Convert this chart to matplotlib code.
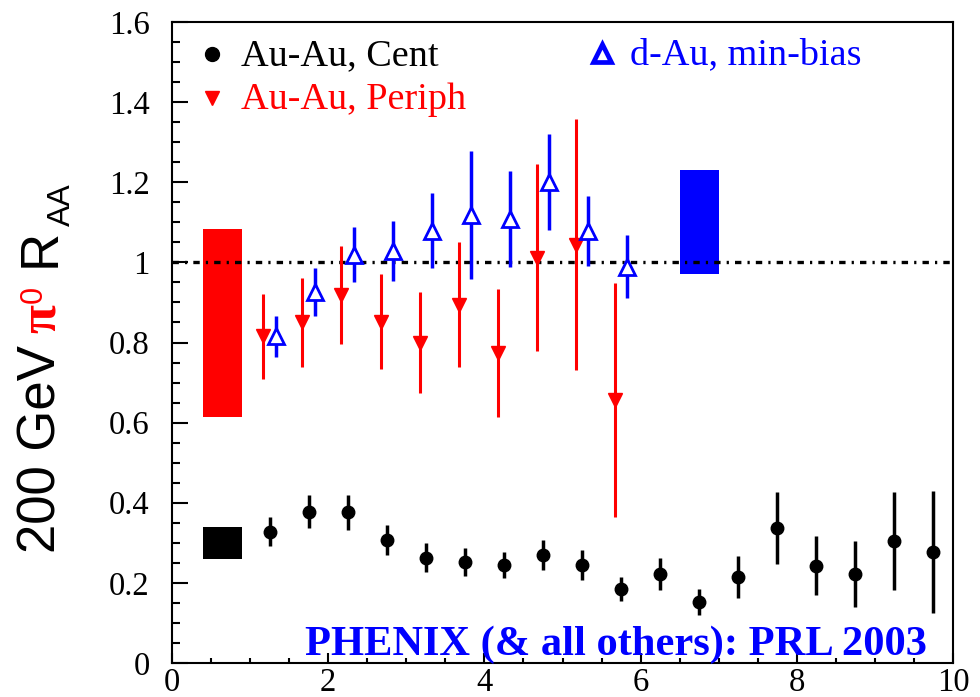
import matplotlib
matplotlib.use("Agg")
import matplotlib.pyplot as plt
from matplotlib.ticker import MultipleLocator, FixedLocator, FixedFormatter

plt.rcParams["font.family"] = ["Liberation Serif", "DejaVu Serif"]
plt.rcParams["lines.scale_dashes"] = False

# ---- data -------------------------------------------------------------
# Au-Au central collisions
pt_cent = [1.25, 1.75, 2.25, 2.75, 3.25, 3.75, 4.25, 4.75, 5.25,
           5.75, 6.25, 6.75, 7.25, 7.75, 8.25, 8.75, 9.25, 9.75]
raa_cent = [0.328, 0.378, 0.376, 0.307, 0.263, 0.252, 0.245, 0.270, 0.245,
            0.185, 0.222, 0.152, 0.214, 0.336, 0.243, 0.222, 0.304, 0.278]
err_cent = [0.037, 0.042, 0.043, 0.037, 0.036, 0.036, 0.032, 0.037, 0.037,
            0.030, 0.040, 0.033, 0.053, 0.090, 0.073, 0.082, 0.122, 0.152]

# Au-Au peripheral collisions
pt_periph = [1.17, 1.67, 2.17, 2.67, 3.17, 3.67, 4.17, 4.67, 5.17, 5.67]
raa_periph = [0.815, 0.850, 0.918, 0.852, 0.800, 0.894, 0.774, 1.012, 1.044, 0.656]
err_periph = [0.105, 0.110, 0.122, 0.119, 0.125, 0.156, 0.159, 0.233, 0.313, 0.292]

# d-Au minimum bias
pt_dau = [1.33, 1.83, 2.33, 2.83, 3.33, 3.83, 4.33, 4.83, 5.33, 5.83]
raa_dau = [0.815, 0.926, 1.019, 1.029, 1.079, 1.119, 1.109, 1.200, 1.079, 0.989]
err_dau = [0.052, 0.060, 0.069, 0.075, 0.094, 0.160, 0.120, 0.120, 0.087, 0.079]

# normalisation uncertainty boxes (cent, periph, d-Au)
box_x = [0.65, 0.65, 6.75]
box_lo = [0.26, 0.615, 0.97]
box_hi = [0.34, 1.083, 1.23]

legend_labels = ["Au-Au, Cent", "Au-Au, Periph", "d-Au, min-bias"]
xtick_vals = [0, 2, 4, 6, 8, 10]
ytick_vals = [0, 0.2, 0.4, 0.6, 0.8, 1.0, 1.2, 1.4, 1.6]
ytick_labels = ["0", "0.2", "0.4", "0.6", "0.8", "1", "1.2", "1.4", "1.6"]

# ---- figure -----------------------------------------------------------
W, H = 980, 697
fig = plt.figure(figsize=(W / 100, H / 100), dpi=100)
ax = fig.add_axes([172 / W, 34 / H, 781 / W, 641 / H])
ax.set_xlim(0, 10)
ax.set_ylim(0, 1.6)

RED = "#ff0000"
BLUE = "#0000ff"

# normalisation boxes
box_colors = ["black", RED, BLUE]
for xc, lo, hi, c in zip(box_x, box_lo, box_hi, box_colors):
    ax.bar(xc, hi - lo, bottom=lo, width=0.5, color=c, linewidth=0, zorder=2)

# reference line at unity
ax.axhline(1.0, color="black", lw=2.4, linestyle=(0, (4.6, 4.4, 1.6, 4.4)), zorder=3)

# data points
ax.errorbar(pt_cent, raa_cent, yerr=err_cent, fmt="o", color="black",
            ms=9, elinewidth=2.5, capsize=0, zorder=4)
ax.errorbar(pt_periph, raa_periph, yerr=err_periph, fmt="v", color=RED,
            ms=9.5, elinewidth=2.2, capsize=0, zorder=5)
ax.errorbar(pt_dau, raa_dau, yerr=err_dau, fmt="^", color=BLUE, mfc="white",
            mec=BLUE, mew=2.0, ms=11.5, elinewidth=2.5, capsize=0, zorder=6)

# legend entries
leg_font = 27.5
ax.plot([0.0508], [0.950], "o", color="black", ms=10, transform=ax.transAxes, clip_on=False)
ax.text(0.088, 0.933, legend_labels[0], color="black", fontsize=leg_font,
        transform=ax.transAxes, va="baseline")
ax.plot([0.0508], [0.881], "v", color=RED, ms=10.5, transform=ax.transAxes, clip_on=False)
ax.text(0.088, 0.864, legend_labels[1], color=RED, fontsize=leg_font,
        transform=ax.transAxes, va="baseline")
ax.plot([0.550], [0.951], "^", color=BLUE, mfc="white", mec=BLUE, mew=3.4, ms=12.5,
        transform=ax.transAxes, clip_on=False)
ax.text(0.587, 0.934, legend_labels[2], color=BLUE, fontsize=leg_font,
        transform=ax.transAxes, va="baseline")

ax.text(0.170, 0.0125, "PHENIX (& all others): PRL 2003", color=BLUE,
        fontsize=30.6, fontweight="bold", transform=ax.transAxes, va="baseline")

# axes styling
for s in ax.spines.values():
    s.set_linewidth(1.5)
ax.xaxis.set_major_locator(FixedLocator(xtick_vals))
ax.xaxis.set_minor_locator(MultipleLocator(0.5))
ax.yaxis.set_major_locator(FixedLocator(ytick_vals))
ax.yaxis.set_major_formatter(FixedFormatter(ytick_labels))
ax.yaxis.set_minor_locator(MultipleLocator(0.05))
ax.tick_params(axis="both", which="both", direction="in", width=1.5,
               top=False, right=False, labelsize=23.5)
ax.tick_params(axis="y", which="major", length=11.5, pad=16)
ax.tick_params(axis="y", which="minor", length=5.8)
ax.tick_params(axis="x", which="major", length=7.2, pad=3)
ax.tick_params(axis="x", which="minor", length=3.6)

# y-axis title assembled from coloured pieces running bottom to top
fig.canvas.draw()
renderer = fig.canvas.get_renderer()
SANS = ["Liberation Sans", "DejaVu Sans"]
SERIF = ["Liberation Serif", "DejaVu Serif"]
pieces = [
    # text, colour, size, perpendicular shift (px), gap after (px), family
    ("200 GeV", "black", 38, 0, 12, SANS),
    ("\u03c0", RED, 38, 0, 1, SERIF),
    ("0", RED, 22, -13, 19, SANS),
    ("R", "black", 38, 0, 3, SANS),
    ("AA", "black", 23, 15, 0, SANS),
]
x_base = 55
y_cur = 144
for txt, col, size, shift, gap, fam in pieces:
    t = fig.text((x_base + shift) / W, y_cur / H, txt, color=col, fontsize=size,
                 family=fam, fontweight="bold" if txt == "\u03c0" else "normal",
                 rotation=90, rotation_mode="anchor", ha="left", va="baseline")
    bb = t.get_window_extent(renderer)
    y_cur += bb.height + gap

fig.savefig("out.png", dpi=100)
